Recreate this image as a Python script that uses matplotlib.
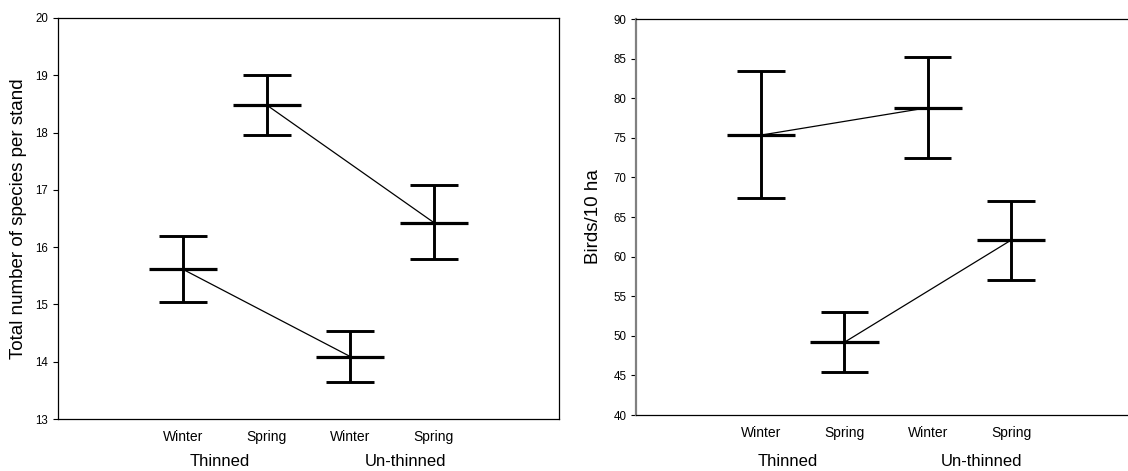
import matplotlib
matplotlib.use('Agg')
import matplotlib.pyplot as plt

plt.rcParams['font.family'] = ['Liberation Sans', 'DejaVu Sans']

# x positions of the four seasons (Thinned winter/spring, Un-thinned winter/spring)
positions = [1, 2, 3, 4]
season_labels = ['Winter', 'Spring', 'Winter', 'Spring']
group_labels = ['Thinned', 'Un-thinned']

# left panel: species per stand
species_mean = [15.61, 18.48, 14.09, 16.43]
species_low = [15.04, 17.96, 13.65, 15.79]
species_high = [16.20, 19.00, 14.53, 17.08]

# right panel: birds per 10 ha
birds_mean = [75.34, 49.18, 78.80, 62.07]
birds_low = [67.34, 45.39, 72.39, 57.02]
birds_high = [83.47, 52.97, 85.16, 67.04]


def draw_panel(ax, mean, low, high):
    for x, m, lo, hi in zip(positions, mean, low, high):
        ax.plot([x, x], [lo, hi], color='k', lw=2.1, solid_capstyle='butt')
        ax.plot([x - 0.285, x + 0.285], [lo, lo], color='k', lw=2.1, solid_capstyle='butt')
        ax.plot([x - 0.285, x + 0.285], [hi, hi], color='k', lw=2.1, solid_capstyle='butt')
        ax.plot([x - 0.41, x + 0.41], [m, m], color='k', lw=2.3, solid_capstyle='butt')
    # winter to winter, spring to spring
    ax.plot([positions[0], positions[2]], [mean[0], mean[2]], color='k', lw=0.9)
    ax.plot([positions[1], positions[3]], [mean[1], mean[3]], color='k', lw=0.9)
    ax.set_xticks(positions)
    ax.set_xticklabels(season_labels, fontsize=10)
    ax.tick_params(axis='x', length=0, pad=8)
    ax.tick_params(axis='y', labelsize=8.3, length=3.5, width=0.8, direction='out')


fig = plt.figure(figsize=(11.28, 4.71), dpi=100)

ax1 = fig.add_axes([58 / 1128, 1 - 419 / 471, 501 / 1128, 401 / 471])
draw_panel(ax1, species_mean, species_low, species_high)
ax1.set_xlim(-0.5, 5.5)
ax1.set_ylim(13, 20)
ax1.set_yticks(range(13, 21))
ax1.set_ylabel('Total number of species per stand', fontsize=13.5, labelpad=6)
for sp in ax1.spines.values():
    sp.set_linewidth(0.9)
ax1.text(1.44, -0.105, group_labels[0], transform=ax1.get_xaxis_transform(),
         ha='center', va='center', fontsize=12)
ax1.text(3.66, -0.105, group_labels[1], transform=ax1.get_xaxis_transform(),
         ha='center', va='center', fontsize=12)

ax2 = fig.add_axes([636 / 1128, 1 - 415 / 471, 500 / 1128, 396 / 471])
draw_panel(ax2, birds_mean, birds_low, birds_high)
ax2.set_xlim(-0.5, 5.5)
ax2.set_ylim(40, 90)
ax2.set_yticks(range(40, 91, 5))
ax2.set_ylabel('Birds/10 ha', fontsize=13.5, labelpad=8)
ax2.spines['right'].set_visible(False)
ax2.spines['left'].set_color('#808080')
ax2.spines['left'].set_linewidth(1.6)
ax2.spines['top'].set_linewidth(0.9)
ax2.spines['bottom'].set_linewidth(0.9)
ax2.text(1.32, -0.118, group_labels[0], transform=ax2.get_xaxis_transform(),
         ha='center', va='center', fontsize=12)
ax2.text(3.64, -0.118, group_labels[1], transform=ax2.get_xaxis_transform(),
         ha='center', va='center', fontsize=12)

fig.savefig('out.png', dpi=100)
